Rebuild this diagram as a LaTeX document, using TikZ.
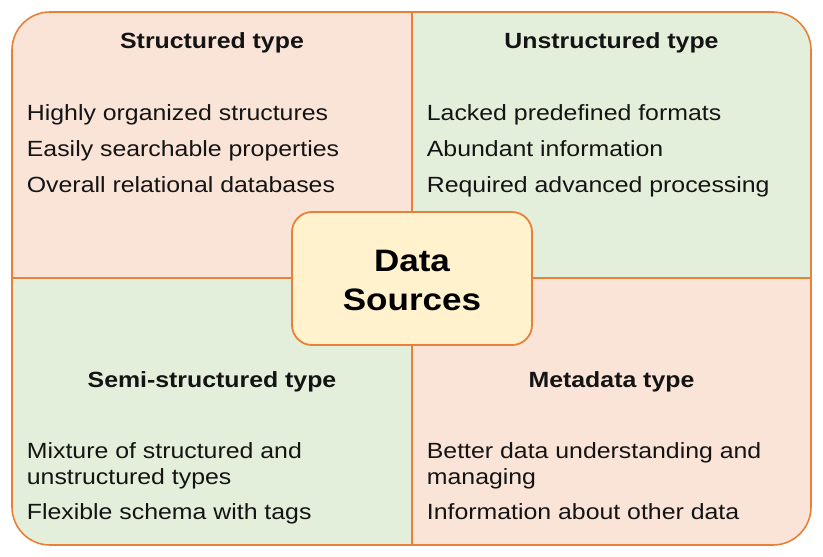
\documentclass[tikz,border=0pt]{standalone}
\usepackage{fontspec}
\setmainfont{Liberation Sans}[FakeStretch=1.13]
\usepackage{xcolor}
\definecolor{dsBorder}{RGB}{233, 128, 55}
\definecolor{dsPeach}{RGB}{250, 228, 216}
\definecolor{dsGreen}{RGB}{227, 239, 218}
\definecolor{dsCore}{RGB}{255, 242, 204}
\definecolor{dsText}{RGB}{20, 20, 20}
\usepackage{tikz}
\usetikzlibrary{
    positioning,
    backgrounds
}

\begin{document}
\begin{tikzpicture}[
    x=1pt, y=-1pt,
    quadTitle/.style={
        anchor=base, inner sep=0pt, text=dsText,
        font=\fontsize{22}{26}\selectfont\bfseries
    },
    quadItem/.style={
        anchor=base west, inner sep=0pt, text=dsText,
        font=\fontsize{22}{26}\selectfont
    },
    coreBox/.style={
        rectangle, rounded corners=20pt,
        draw=dsBorder, line width=1.8pt,
        fill=dsCore, text=black,
        font=\fontsize{31}{39}\selectfont\bfseries,
        align=center, inner sep=0pt,
        minimum width=240pt, minimum height=133pt
    },
    divider/.style={draw=dsBorder, line width=1.3pt}
]
    \useasboundingbox (0,0) rectangle (823,557);

    % Quadrant backgrounds
    \begin{scope}
        \clip[rounded corners=38pt] (12,12) rectangle (811,545);
        \fill[dsPeach] (12,12) rectangle (412,278);
        \fill[dsGreen] (412,12) rectangle (811,278);
        \fill[dsGreen] (12,278) rectangle (412,545);
        \fill[dsPeach] (412,278) rectangle (811,545);
    \end{scope}

    % Dividers and frame
    \coordinate (divTop) at (412,12);
    \coordinate (divBottom) at (412,545);
    \coordinate (divLeft) at (12,278);
    \coordinate (divRight) at (811,278);
    \draw[divider] (divTop) -- (divBottom);
    \draw[divider] (divLeft) -- (divRight);
    \draw[dsBorder, line width=1.6pt, rounded corners=38pt] (12,12) rectangle (811,545);

    % Top left: structured
    \node[quadTitle] (structTitle) at (212, 48) {Structured type};
    \node[quadItem] (structA) at (26.7, 120) {Highly organized structures};
    \node[quadItem] (structB) at (26.7, 156.3) {Easily searchable properties};
    \node[quadItem] (structC) at (26.7, 192.6) {Overall relational databases};

    % Top right: unstructured
    \node[quadTitle] (unstructTitle) at (611.5, 48) {Unstructured type};
    \node[quadItem] (unstructA) at (426.7, 120) {Lacked predefined formats};
    \node[quadItem] (unstructB) at (426.7, 156.3) {Abundant information};
    \node[quadItem] (unstructC) at (426.7, 192.6) {Required advanced processing};

    % Bottom left: semi-structured
    \node[quadTitle] (semiTitle) at (212, 387.5) {Semi-structured type};
    \node[quadItem] (semiA) at (26.7, 458) {Mixture of structured and};
    \node[quadItem] (semiA2) at (26.7, 484) {unstructured types};
    \node[quadItem] (semiB) at (26.7, 519.5) {Flexible schema with tags};

    % Bottom right: metadata
    \node[quadTitle] (metaTitle) at (611.5, 387.5) {Metadata type};
    \node[quadItem] (metaA) at (426.7, 458) {Better data understanding and};
    \node[quadItem] (metaA2) at (426.7, 484) {managing};
    \node[quadItem] (metaB) at (426.7, 519.5) {Information about other data};

    % Centre
    \node[coreBox] (dataSrc) at (412, 278.5) {};
    \node[font=\fontsize{31}{39}\selectfont\bfseries, align=center, inner sep=0pt]
        (dataSrcText) at (412, 280) {Data\\Sources};

\end{tikzpicture}
\end{document}
